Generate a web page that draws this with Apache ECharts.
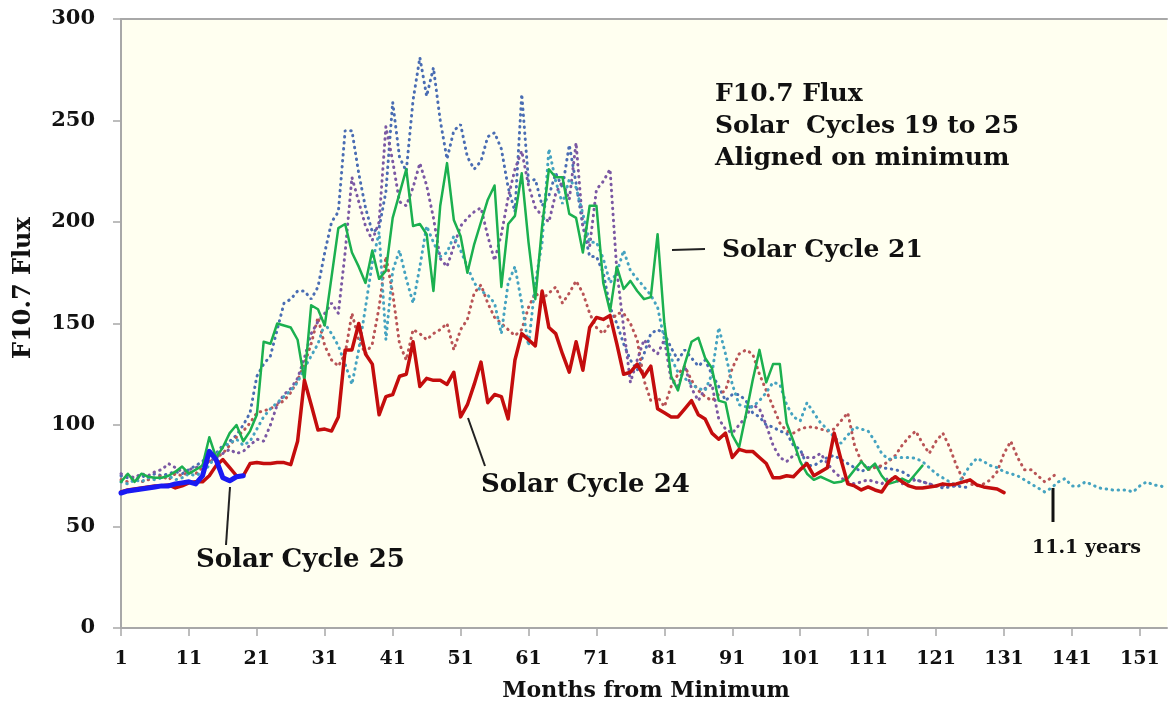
<!DOCTYPE html>
<html>
<head>
<meta charset="utf-8">
<script src="https://cdn.jsdelivr.net/npm/echarts@6/dist/echarts.min.js"></script>
<style>
html,body{margin:0;padding:0;background:#fff;}
#chart{width:1169px;height:703px;}
</style>
</head>
<body>
<div id="chart"></div>
<script>
// Months from minimum (category axis)
const months = [];
for (let m = 1; m <= 155; m++) months.push(String(m));

// Y ticks
const yTicks = [0, 50, 100, 150, 200, 250, 300];

// Cycle 19 (blue dotted)
const cycle19 = [75,74,73,75,74,76,75,76,77,76,78,80,82,86,86,90,92,95,100,106,
124,130,134,147,160,162,166,166,162,168,185,200,205,245,245,224,207,195,197,215,
259,232,225,260,281,262,276,250,231,245,248,232,226,230,242,244,236,217,205,263,
220,221,208,213,224,217,238,219,198,183,183,175,158,150,140,132,127,135,145,147,
145,138,132,137,133,129,132,125,119,112,115,115,112,106,104,100,99,97,96,90,
88,80,80,82,84,85,83,81,79,77,79,80,79,78.5,78,77,75,73,72,71,
70,69,69.5,70,69.5,69];

// Cycle 20 (red dotted)
const cycle20 = [73,72,74,72,73,74,75,73,76,75,77,76,79,82,84,86,90,94,97,101,
106,107,108,110,112,116,122,130,140,153,139,132,129,135,155,142,135,140,158,183,
165,140,132,147,145,142,145,147,150,137,147,152,165,169,160,153,150,147,144,147,
158,165,162,165,168,160,165,171,165,155,148,145,150,155,155,150,142,122,112,114,
109,119,125,129,122,117,114,112,115,117,128,135,137,135,125,117,109,101,97,96,
98,99,99,98,97,98,102,106,90,82,78,79,80,82,85,90,94,97,91,86,
92,96,89,80,73,71,70,71,73,77,86,92,84,78,78,75,72,74,77];

// Cycle 21 (green solid)
const cycle21 = [72,76,72,76,74.5,74,74,75,77,79.5,76,78,80,94,84,89,96,100,92,97,
105,141,140,150,149,148,142,122,159,157,149,173,197,199,185,178,170,186,172,176,
202,214,226,198,199,194,166,208,229,201,193,175,189,200,211,218,168,199,203,224,
190,162,198,226,222,222,204,202,185,208,208,170,156,178,167,171,166,162,163,194,
150,124,117,130,141,143,133,128,112,111,95,89,105,122,137,121,130,130,101,92,
82,76,73,74.5,73,71.5,72,73.7,78,82,78,81,75,71,72,73.6,72,76,80];

// Cycle 22 (purple dotted)
const cycle22 = [76,75,74,76,75,77,78,81,79,77,78,79,80,82,84,86,88,86,87,90,
93,92,100,110,115,118,123,133,145,151,155,160,155,185,222,210,198,191,200,247,
230,210,208,217,229,218,202,182,178,188,198,202,205,207,193,181,194,212,226,235,
218,207,203,200,214,220,211,239,198,188,216,220,226,176,148,121,132,142,138,135,
142,122,119,129,118,112,118,120,103,98,96,100,104,110,108,100,90,84,82,85,
86,84,84,86,81,77,74,72,71,72,73,72,71,74,73,71,72,73,72,71,
70,70,71,70];

// Cycle 23 (teal dotted)
const cycle23 = [72,71,73,72,74,73,74,75,73,74,76,75,77,80,85,89,91,93,90,92,
98,104,108,111,114,117,121,128,134,140,150,145,139,130,120,137,158,180,195,142,
176,186,172,160,178,198,190,183,185,193,186,178,170,166,164,160,145,170,178,160,
139,170,190,236,220,209,221,217,204,190,190,182,170,175,186,176,172,168,164,158,
142,133,126,123,120,118,117,125,148,135,120,110,109,109,112,116,121,120,110,104,
102,111,106,101,98,94,91,95,99,98,97,92,86,83,84,84,84,83.6,82,79,
76,74,72,70,75,80,83.6,82,80,79,77,76,75,73,71,69,67,69,72,73.6,
70,70,72,70.5,69,68.5,68,68,68,67,70,72,70.5,70,69];

// Cycle 24 (red solid)
const cycle24 = [67,68,68.5,69,69.5,70,70,70.5,69,70,71.5,72,72,75,80,83,79,75,75,81,
81.5,81,81,81.5,81.5,80.5,92,122,110,97.5,98,97,104,137,137,150,135,130,105,114,
115,124,125,141,119,123,122,122,120,126,104,110,120,131,111,115,114,103,132,145,
142,139,166,148,145,135,126,141,127,148,153,152,154,140,125,126,130,124,129,108,
106,104,104,108,112,105,103,96,93,96,84,88,87,87,84,81,74,74,75,74.5,
78,81,75,77,79,96,83,71,70,68,69.5,68,67,72,74.5,72,70,69,69,69.5,
70,71,70.5,71,72,73,70.5,69.5,69,68.5,66.7];

// Cycle 25 (blue solid)
const cycle25 = [66.5,67.5,68,68.5,69,69.5,70,70,71,71.5,72,71,75,87,83,74,72.5,74.5,75];

const serif = '"DejaVu Serif", "Liberation Serif", serif';

const chart = echarts.init(document.getElementById('chart'));

function dotted(name, data, color) {
  return {
    name, type: 'line', data, showSymbol: false, symbol: 'none',
    smooth: false, z: 2,
    lineStyle: { color, width: 3, type: [0.5, 5.5], cap: 'round' }
  };
}
function solid(name, data, color, width, z) {
  return {
    name, type: 'line', data, showSymbol: false, symbol: 'none',
    smooth: false, z,
    lineStyle: { color, width, type: 'solid', cap: 'round', join: 'round' }
  };
}

chart.setOption({
  animation: false,
  backgroundColor: '#ffffff',
  grid: {
    left: 121, right: 2, top: 19, bottom: 75,
    show: true, backgroundColor: '#FFFFF0', borderWidth: 0
  },
  xAxis: [{
    type: 'category', data: months, boundaryGap: false, position: 'bottom',
    axisLine: { show: true, lineStyle: { color: '#a8a8a8', width: 2 } },
    axisTick: { show: true, interval: 9, length: 8, inside: false, lineStyle: { color: '#a8a8a8', width: 1.5 } },
    axisLabel: { interval: 9, margin: 22, fontFamily: serif, fontWeight: 'bold', fontSize: 19, color: '#111' },
    splitLine: { show: false }
  }, {
    type: 'category', data: months, boundaryGap: false, position: 'top',
    axisLine: { show: true, lineStyle: { color: '#a8a8a8', width: 2 } },
    axisTick: { show: false }, axisLabel: { show: false }, splitLine: { show: false }
  }],
  yAxis: {
    type: 'value', min: yTicks[0], max: yTicks[yTicks.length - 1], interval: 50,
    axisLine: { show: true, lineStyle: { color: '#a8a8a8', width: 2 } },
    axisTick: { show: true, length: 8, lineStyle: { color: '#a8a8a8', width: 1.5 } },
    axisLabel: { margin: 26, fontFamily: serif, fontWeight: 'bold', fontSize: 21, color: '#111' },
    splitLine: { show: false }
  },
  series: [
    dotted('Cycle 19', cycle19, '#4a6db3'),
    dotted('Cycle 20', cycle20, '#b95456'),
    dotted('Cycle 22', cycle22, '#7b58a3'),
    dotted('Cycle 23', cycle23, '#45a3c0'),
    solid('Cycle 21', cycle21, '#1bb04f', 2.5, 4),
    solid('Cycle 24', cycle24, '#c40d0d', 3.5, 5),
    solid('Cycle 25', cycle25, '#1a1af2', 5, 6)
  ],
  graphic: [
    { type: 'group', silent: true, children: [
      { type: 'text', x: 24, y: 288, rotation: Math.PI / 2, style: { text: 'F10.7 Flux', font: 'bold 24px ' + serif, fill: '#111', align: 'center', verticalAlign: 'middle' } },
      { type: 'text', x: 646, y: 691, style: { text: 'Months from Minimum', font: 'bold 22px ' + serif, fill: '#111', align: 'center', verticalAlign: 'middle' } },
      { type: 'text', left: 715, top: 78, style: { text: 'F10.7 Flux\nSolar  Cycles 19 to 25\nAligned on minimum', font: 'bold 25px ' + serif, fill: '#111', lineHeight: 32 } },
      { type: 'text', left: 722, top: 238, style: { text: 'Solar Cycle 21', font: 'bold 25px ' + serif, fill: '#111' } },
      { type: 'line', shape: { x1: 672, y1: 250, x2: 705, y2: 249 }, style: { stroke: '#222', lineWidth: 2 } },
      { type: 'text', left: 481, top: 472, style: { text: 'Solar Cycle 24', font: 'bold 26px ' + serif, fill: '#111' } },
      { type: 'line', shape: { x1: 468, y1: 418, x2: 485, y2: 466 }, style: { stroke: '#222', lineWidth: 2 } },
      { type: 'text', left: 196, top: 547, style: { text: 'Solar Cycle 25', font: 'bold 26px ' + serif, fill: '#111' } },
      { type: 'line', shape: { x1: 230, y1: 487, x2: 226, y2: 545 }, style: { stroke: '#222', lineWidth: 2 } },
      { type: 'text', left: 1032, top: 539, style: { text: '11.1 years', font: 'bold 19px ' + serif, fill: '#111' } },
      { type: 'line', shape: { x1: 1053, y1: 488, x2: 1053, y2: 522 }, style: { stroke: '#111', lineWidth: 3 } }
    ]}
  ]
});
</script>
</body>
</html>
